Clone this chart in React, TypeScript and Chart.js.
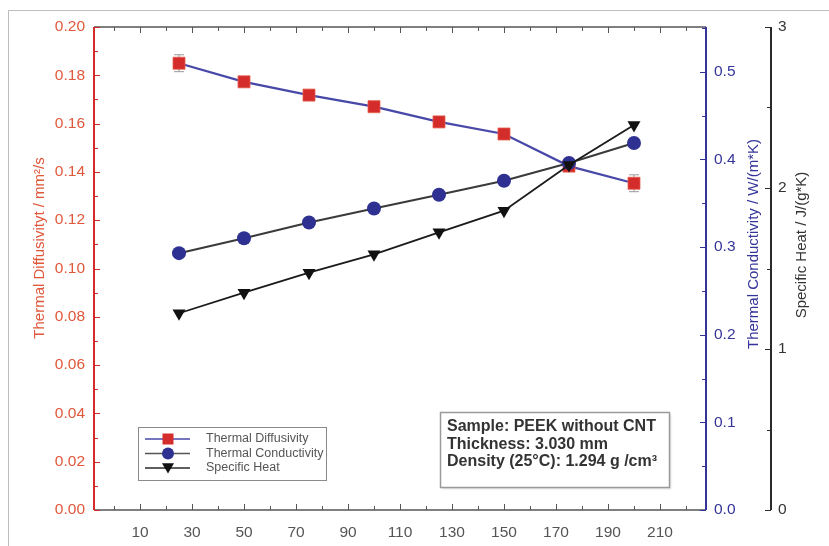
import React, { useEffect, useRef } from 'react';
import { Chart, registerables } from 'chart.js';

Chart.register(...registerables);

// ---------- data ----------
const temperatures = [25, 50, 75, 100, 125, 150, 175, 200];
const diffusivity = [0.185, 0.1773, 0.1718, 0.167, 0.1607, 0.1557, 0.1424, 0.1353];
const diffusivityErr = [0.0035, 0, 0, 0, 0, 0.0012, 0, 0.0035];
const conductivity = [0.293, 0.31, 0.328, 0.344, 0.3596, 0.3756, 0.3958, 0.4186];
const specificHeat = [1.222, 1.35, 1.474, 1.588, 1.725, 1.859, 2.143, 2.391];

const xTickLabels = [10, 30, 50, 70, 90, 110, 130, 150, 170, 190, 210];
const xMinorTicks = [0, 10, 20, 30, 40, 50, 60, 70, 80, 90, 100, 110, 120, 130, 140, 150, 160, 170, 180, 190, 200, 210, 220];
const diffTicks = [0, 0.02, 0.04, 0.06, 0.08, 0.1, 0.12, 0.14, 0.16, 0.18, 0.2];
const diffMinor = [0.01, 0.03, 0.05, 0.07, 0.09, 0.11, 0.13, 0.15, 0.17, 0.19];
const condTicks = [0, 0.1, 0.2, 0.3, 0.4, 0.5];
const condMinor = [0.05, 0.15, 0.25, 0.35, 0.45, 0.55];
const heatTicks = [0, 1, 2, 3];
const heatMinor = [0.5, 1.5, 2.5];

const seriesNames = ['Thermal Diffusivity', 'Thermal Conductivity', 'Specific Heat'];
const infoLines = ['Sample: PEEK without CNT', 'Thickness: 3.030 mm', 'Density (25\u00B0C): 1.294 g /cm\u00B3'];

// ---------- styles ----------
const RED = '#d42b2b';
const RED_TEXT = '#e0573a';
const BLUE = '#34349a';
const BLUE_LINE = '#4848a8';
const DARK = '#2a2a2a';
const FONT = '"Liberation Sans", Arial, sans-serif';

function drawMarker(ctx: CanvasRenderingContext2D, kind: string, x: number, y: number, r: number, color: string) {
  ctx.save();
  ctx.fillStyle = color;
  ctx.beginPath();
  if (kind === 'rect') {
    ctx.rect(x - r, y - r, 2 * r, 2 * r);
  } else if (kind === 'circle') {
    ctx.arc(x, y, r, 0, Math.PI * 2);
  } else {
    ctx.moveTo(x - r, y - r * 0.8);
    ctx.lineTo(x + r, y - r * 0.8);
    ctx.lineTo(x, y + r * 0.9);
    ctx.closePath();
  }
  ctx.fill();
  ctx.restore();
}

function vText(ctx: CanvasRenderingContext2D, text: string, x: number, y: number, color: string, font: string) {
  ctx.save();
  ctx.translate(x, y);
  ctx.rotate(-Math.PI / 2);
  ctx.textAlign = 'center';
  ctx.textBaseline = 'middle';
  ctx.fillStyle = color;
  ctx.font = font;
  ctx.fillText(text, 0, 0);
  ctx.restore();
}

const decorPlugin = {
  id: 'decor',
  beforeDraw(chart: any) {
    const ctx = chart.ctx as CanvasRenderingContext2D;
    ctx.save();
    ctx.fillStyle = '#ffffff';
    ctx.fillRect(0, 0, chart.width, chart.height);
    ctx.strokeStyle = '#bdbdbd';
    ctx.lineWidth = 1;
    ctx.beginPath();
    ctx.moveTo(8.5, chart.height);
    ctx.lineTo(8.5, 10.5);
    ctx.lineTo(chart.width, 10.5);
    ctx.stroke();
    ctx.restore();
  },
  beforeDatasetsDraw(chart: any) {
    const ctx = chart.ctx as CanvasRenderingContext2D;
    const x = chart.scales.x;
    const yD = chart.scales.yD;
    ctx.save();
    ctx.strokeStyle = '#9a9a9a';
    ctx.lineWidth = 1;
    temperatures.forEach((t, i) => {
      const e = diffusivityErr[i];
      if (!e) return;
      const px = x.getPixelForValue(t);
      const top = yD.getPixelForValue(diffusivity[i] + e);
      const bot = yD.getPixelForValue(diffusivity[i] - e);
      ctx.beginPath();
      ctx.moveTo(px, top);
      ctx.lineTo(px, bot);
      ctx.moveTo(px - 5, top);
      ctx.lineTo(px + 5, top);
      ctx.moveTo(px - 5, bot);
      ctx.lineTo(px + 5, bot);
      ctx.stroke();
    });
    ctx.restore();
  },
  afterDraw(chart: any) {
    const ctx = chart.ctx as CanvasRenderingContext2D;
    const { left, right, top, bottom } = chart.chartArea;
    const x = chart.scales.x;
    const yD = chart.scales.yD;
    const yC = chart.scales.yC;
    const yH = chart.scales.yH;
    ctx.save();
    ctx.lineCap = 'butt';

    // top & bottom frame lines with inward ticks
    ctx.strokeStyle = '#555';
    ctx.lineWidth = 1.5;
    ctx.beginPath();
    ctx.moveTo(left, top);
    ctx.lineTo(right, top);
    ctx.moveTo(left, bottom);
    ctx.lineTo(right, bottom);
    ctx.stroke();
    ctx.lineWidth = 1;
    ctx.beginPath();
    xMinorTicks.forEach((v) => {
      const px = Math.round(x.getPixelForValue(v)) + 0.5;
      const len = xTickLabels.includes(v) ? 6 : 4;
      ctx.moveTo(px, bottom);
      ctx.lineTo(px, bottom - len);
      ctx.moveTo(px, top);
      ctx.lineTo(px, top + len);
    });
    ctx.stroke();

    // left red axis
    ctx.strokeStyle = RED;
    ctx.lineWidth = 2;
    ctx.beginPath();
    ctx.moveTo(left, top);
    ctx.lineTo(left, bottom);
    ctx.stroke();
    ctx.lineWidth = 1.2;
    ctx.beginPath();
    diffTicks.forEach((v) => {
      const py = Math.round(yD.getPixelForValue(v)) + 0.5;
      ctx.moveTo(left, py);
      ctx.lineTo(left + 6, py);
    });
    diffMinor.forEach((v) => {
      const py = Math.round(yD.getPixelForValue(v)) + 0.5;
      ctx.moveTo(left, py);
      ctx.lineTo(left + 4, py);
    });
    ctx.stroke();

    // right blue axis
    ctx.strokeStyle = BLUE;
    ctx.lineWidth = 2;
    ctx.beginPath();
    ctx.moveTo(right, top);
    ctx.lineTo(right, bottom);
    ctx.stroke();
    ctx.lineWidth = 1.2;
    ctx.beginPath();
    condTicks.forEach((v) => {
      const py = Math.round(yC.getPixelForValue(v)) + 0.5;
      ctx.moveTo(right, py);
      ctx.lineTo(right - 6, py);
    });
    condMinor.forEach((v) => {
      const py = Math.round(yC.getPixelForValue(v)) + 0.5;
      ctx.moveTo(right, py);
      ctx.lineTo(right - 4, py);
    });
    ctx.stroke();

    // far right black axis
    const hx = yH.left;
    ctx.strokeStyle = DARK;
    ctx.lineWidth = 2;
    ctx.beginPath();
    ctx.moveTo(hx, yH.getPixelForValue(3));
    ctx.lineTo(hx, yH.getPixelForValue(0));
    ctx.stroke();
    ctx.lineWidth = 1.2;
    ctx.beginPath();
    heatTicks.forEach((v) => {
      const py = Math.round(yH.getPixelForValue(v)) + 0.5;
      ctx.moveTo(hx, py);
      ctx.lineTo(hx - 6, py);
    });
    heatMinor.forEach((v) => {
      const py = Math.round(yH.getPixelForValue(v)) + 0.5;
      ctx.moveTo(hx, py);
      ctx.lineTo(hx - 4, py);
    });
    ctx.stroke();

    // axis titles
    vText(ctx, 'Thermal Diffusivityt / mm\u00B2/s', 40, 248, RED_TEXT, `15px ${FONT}`);
    vText(ctx, 'Thermal Conductivity / W/(m*K)', 754, 244, BLUE, `15px ${FONT}`);
    vText(ctx, 'Specific Heat / J/(g*K)', 802, 245, '#333', `15px ${FONT}`);

    // legend box
    ctx.strokeStyle = '#8a8a8a';
    ctx.lineWidth = 1;
    ctx.strokeRect(138.5, 427.5, 188, 53);
    const rows = [439, 453.5, 468];
    const lineColors = [BLUE_LINE, '#555', DARK];
    const kinds = ['rect', 'circle', 'tri'];
    const markColors = [RED, '#2e3192', '#111'];
    const sizes = [5.5, 6, 6];
    rows.forEach((ry, i) => {
      ctx.strokeStyle = lineColors[i];
      ctx.lineWidth = 1.5;
      ctx.beginPath();
      ctx.moveTo(145, ry);
      ctx.lineTo(190, ry);
      ctx.stroke();
      drawMarker(ctx, kinds[i], 168, ry, sizes[i], markColors[i]);
      ctx.fillStyle = '#555';
      ctx.font = `12.5px ${FONT}`;
      ctx.textAlign = 'left';
      ctx.textBaseline = 'middle';
      ctx.fillText(seriesNames[i], 206, ry);
    });

    // info box
    ctx.shadowColor = 'rgba(0,0,0,0.15)';
    ctx.shadowBlur = 2;
    ctx.shadowOffsetX = 1;
    ctx.shadowOffsetY = 1;
    ctx.fillStyle = '#ffffff';
    ctx.fillRect(440.5, 412.5, 229, 75);
    ctx.shadowColor = 'transparent';
    ctx.strokeStyle = '#9a9a9a';
    ctx.strokeRect(440.5, 412.5, 229, 75);
    ctx.fillStyle = '#333';
    ctx.font = `bold 16px ${FONT}`;
    ctx.textAlign = 'left';
    ctx.textBaseline = 'middle';
    infoLines.forEach((t, i) => ctx.fillText(t, 447, 427 + i * 17.5));

    ctx.restore();
  },
};

export default function App() {
  const ref = useRef<HTMLCanvasElement>(null);
  useEffect(() => {
    if (!ref.current) return;
    const tickFont = { family: FONT, size: 15.5 };
    const noGrid = { display: false, drawTicks: false, drawOnChartArea: false };
    const chart = new Chart(ref.current, {
      type: 'line',
      data: {
        datasets: [
          {
            label: seriesNames[0],
            data: temperatures.map((t, i) => ({ x: t, y: diffusivity[i] })),
            yAxisID: 'yD',
            borderColor: BLUE_LINE,
            borderWidth: 2.2,
            pointStyle: 'rect',
            pointRadius: 8.5,
            pointBackgroundColor: RED,
            pointBorderColor: '#e4604c',
            pointBorderWidth: 0.8,
            order: 3,
          },
          {
            label: seriesNames[1],
            data: temperatures.map((t, i) => ({ x: t, y: conductivity[i] })),
            yAxisID: 'yC',
            borderColor: '#3a3a3a',
            borderWidth: 2,
            pointStyle: 'circle',
            pointRadius: 7,
            pointBackgroundColor: '#2e3192',
            pointBorderColor: '#2e3192',
            pointBorderWidth: 0,
            order: 2,
          },
          {
            label: seriesNames[2],
            data: temperatures.map((t, i) => ({ x: t, y: specificHeat[i] })),
            yAxisID: 'yH',
            borderColor: '#1a1a1a',
            borderWidth: 1.8,
            pointStyle: 'triangle',
            rotation: 180,
            pointRadius: 7.5,
            pointBackgroundColor: '#111',
            pointBorderColor: '#111',
            pointBorderWidth: 0,
            order: 1,
          },
        ],
      },
      options: {
        animation: false,
        responsive: false,
        devicePixelRatio: 1,
        layout: { padding: { top: 27, left: 0, right: 0, bottom: 0 } },
        plugins: { legend: { display: false }, tooltip: { enabled: false } },
        elements: { line: { tension: 0 } },
        scales: {
          x: {
            type: 'linear',
            position: 'bottom',
            min: -7.7,
            max: 227.7,
            grid: noGrid,
            border: { display: false },
            afterBuildTicks: (s: any) => {
              s.ticks = xTickLabels.map((v) => ({ value: v }));
            },
            afterFit: (s: any) => {
              s.height = 36;
            },
            ticks: { color: '#555', font: tickFont, padding: 13, maxRotation: 0, autoSkip: false, callback: (v: any) => String(v) },
          },
          yD: {
            type: 'linear',
            position: 'left',
            min: 0,
            max: 0.2,
            grid: noGrid,
            border: { display: false },
            afterBuildTicks: (s: any) => {
              s.ticks = diffTicks.map((v) => ({ value: v }));
            },
            afterFit: (s: any) => {
              s.width = 94;
            },
            ticks: { color: RED_TEXT, font: tickFont, padding: 9, callback: (v: any) => Number(v).toFixed(2) },
          },
          yC: {
            type: 'linear',
            position: 'right',
            weight: 1,
            min: 0,
            max: 0.551,
            grid: noGrid,
            border: { display: false },
            afterBuildTicks: (s: any) => {
              s.ticks = condTicks.map((v) => ({ value: v }));
            },
            afterFit: (s: any) => {
              s.width = 65;
            },
            ticks: { color: BLUE, font: tickFont, padding: 8, callback: (v: any) => Number(v).toFixed(1) },
          },
          yH: {
            type: 'linear',
            position: 'right',
            weight: 2,
            min: 0,
            max: 3,
            grid: noGrid,
            border: { display: false },
            afterBuildTicks: (s: any) => {
              s.ticks = heatTicks.map((v) => ({ value: v }));
            },
            afterFit: (s: any) => {
              s.width = 58;
            },
            ticks: { color: '#333', font: tickFont, padding: 7, callback: (v: any) => String(v) },
          },
        },
      },
      plugins: [decorPlugin],
    } as any);
    return () => chart.destroy();
  }, []);
  return (
    <div style={{ position: 'absolute', left: 0, top: 0, width: 829, height: 546 }}>
      <canvas ref={ref} width={829} height={546} style={{ display: 'block' }} />
    </div>
  );
}
